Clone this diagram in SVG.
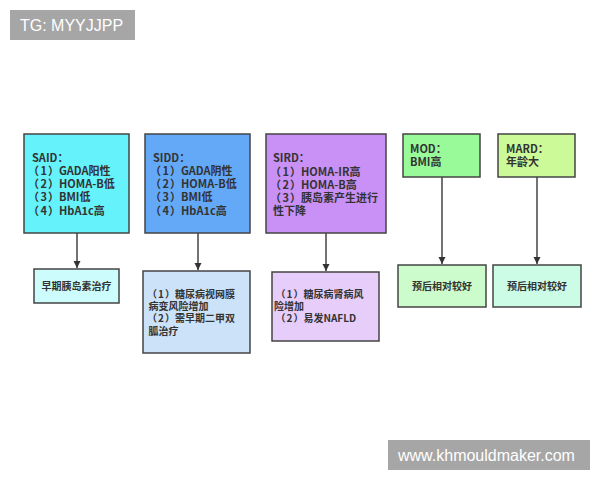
<svg xmlns="http://www.w3.org/2000/svg" width="600" height="480" viewBox="0 0 600 480">
<style>
.box{stroke:#444;stroke-width:1.5}
.t{font-family:"Noto Sans CJK SC","Noto Sans",sans-serif;font-size:11px;font-weight:bold;fill:#333}
.s{font-size:10px}
.c{text-anchor:middle}
.wm{font-family:"Liberation Sans",Arial,sans-serif;font-size:16px;fill:#fff}
.ln{stroke:#444;stroke-width:1.5;fill:none}
</style>
<defs>
<marker id="ah" viewBox="0 0 10 10" refX="10" refY="5" markerWidth="5" markerHeight="5" markerUnits="strokeWidth" orient="auto">
<path d="M0,0 L10,5 L0,10 Z" fill="#333"/>
</marker>
</defs>
<rect width="600" height="480" fill="#fff"/>
<g id="wm1"><rect x="10" y="10" width="125" height="30" fill="#a6a6a6"/><text class="wm" x="20" y="31">TG: MYYJJPP</text></g>
<g id="wm2"><rect x="388" y="440" width="202" height="30" fill="#a6a6a6"/><text class="wm" x="398" y="461">www.khmouldmaker.com</text></g>

<g id="connectors">
<line class="ln" x1="77" y1="233" x2="77" y2="268" marker-end="url(#ah)"/>
<line class="ln" x1="198" y1="233" x2="198" y2="270" marker-end="url(#ah)"/>
<line class="ln" x1="326" y1="233" x2="326" y2="271" marker-end="url(#ah)"/>
<line class="ln" x1="442" y1="177" x2="442" y2="264" marker-end="url(#ah)"/>
<line class="ln" x1="537" y1="177" x2="537" y2="264" marker-end="url(#ah)"/>
</g>

<g id="said">
<rect class="box" x="24" y="134" width="105" height="99" fill="#66f2fa"/>
<text class="t"><tspan x="32" y="162">SAID：</tspan><tspan x="28" y="175" dx="0 1.5 1">（1）GADA阳性</tspan><tspan x="28" y="188" dx="0 1.5 1">（2）HOMA-B低</tspan><tspan x="28" y="201" dx="0 1.5 1">（3）BMI低</tspan><tspan x="28" y="215" dx="0 1.5 1">（4）HbA1c高</tspan></text>
</g>
<g id="sidd">
<rect class="box" x="145" y="134" width="105" height="99" fill="#64a9f8"/>
<text class="t"><tspan x="153" y="162">SIDD：</tspan><tspan x="150" y="175" dx="0 1.5 1">（1）GADA阴性</tspan><tspan x="150" y="188" dx="0 1.5 1">（2）HOMA-B低</tspan><tspan x="150" y="201" dx="0 1.5 1">（3）BMI低</tspan><tspan x="150" y="215" dx="0 1.5 1">（4）HbA1c高</tspan></text>
</g>
<g id="sird">
<rect class="box" x="266" y="134" width="120" height="99" fill="#c990f5"/>
<text class="t"><tspan x="273" y="162">SIRD：</tspan><tspan x="270" y="176" dx="0 1.5 1">（1）HOMA-IR高</tspan><tspan x="270" y="189" dx="0 1.5 1">（2）HOMA-B高</tspan><tspan x="270" y="202" dx="0 1.5 1">（3）胰岛素产生进行</tspan><tspan x="273" y="215">性下降</tspan></text>
</g>
<g id="mod">
<rect class="box" x="403" y="134" width="77" height="43" fill="#99fa99"/>
<text class="t"><tspan x="410" y="153">MOD：</tspan><tspan x="410" y="166">BMI高</tspan></text>
</g>
<g id="mard">
<rect class="box" x="498" y="134" width="77" height="43" fill="#ccfa99"/>
<text class="t"><tspan x="506" y="153">MARD：</tspan><tspan x="506" y="166">年龄大</tspan></text>
</g>

<g id="r1">
<rect class="box" x="34" y="269" width="85" height="34" fill="#ccfcfc"/>
<text class="t s c" x="76.5" y="290">早期胰岛素治疗</text>
</g>
<g id="r2">
<rect class="box" x="143" y="271" width="107" height="82" fill="#cce2f8"/>
<text class="t s"><tspan x="148.5" y="310">病变风险增加</tspan><tspan x="147" y="298" dx="0 1 1">（1）糖尿病视网膜</tspan><tspan x="147" y="322" dx="0 1 1">（2）需早期二甲双</tspan><tspan x="148.5" y="335">胍治疗</tspan></text>
</g>
<g id="r3">
<rect class="box" x="272" y="272" width="107" height="69" fill="#e7cdfa"/>
<text class="t s"><tspan x="274" y="310">险增加</tspan><tspan x="275.5" y="298" dx="0 1 1">（1）糖尿病肾病风</tspan><tspan x="275.5" y="322" dx="0 1 1">（2）易发NAFLD</tspan></text>
</g>
<g id="r4">
<rect class="box" x="398" y="265" width="88" height="42" fill="#ccfccc"/>
<text class="t s c" x="442" y="290">预后相对较好</text>
</g>
<g id="r5">
<rect class="box" x="493" y="265" width="88" height="42" fill="#ccfce6"/>
<text class="t s c" x="537" y="290">预后相对较好</text>
</g>
</svg>
